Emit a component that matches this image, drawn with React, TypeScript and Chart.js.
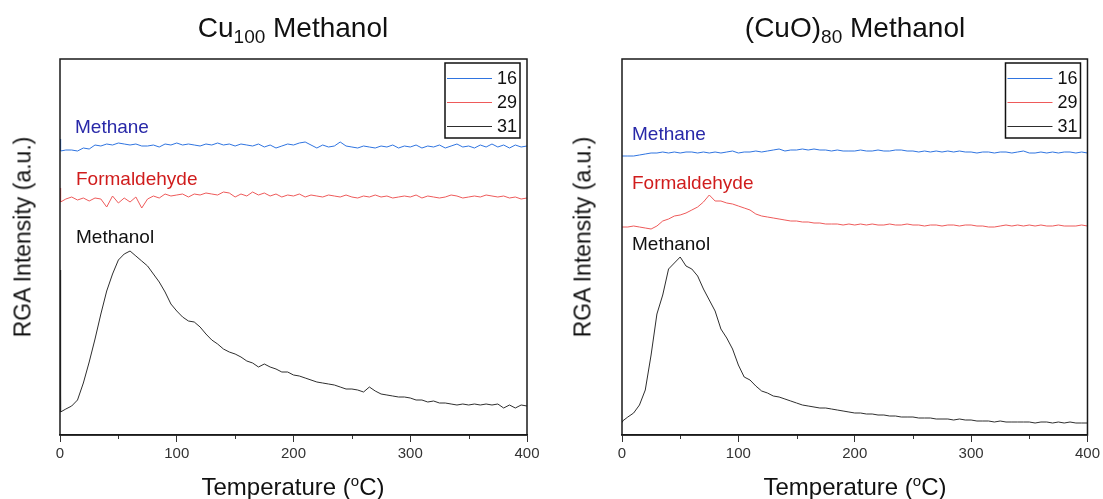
import React, { useEffect, useRef } from "react";
import { Chart, registerables } from "chart.js";

Chart.register(...registerables);

const FONT = '"Liberation Sans", Arial, Helvetica, sans-serif';

// Temperature (°C) sample points
const temps = [
  0, 0.5,
  5, 10, 15, 20, 25, 30, 35, 40, 45, 50,
  55, 60, 65, 70, 75, 80, 85, 90, 95, 100,
  105, 110, 115, 120, 125, 130, 135, 140, 145, 150,
  155, 160, 165, 170, 175, 180, 185, 190, 195, 200,
  205, 210, 215, 220, 225, 230, 235, 240, 245, 250,
  255, 260, 265, 270, 275, 280, 285, 290, 295, 300,
  305, 310, 315, 320, 325, 330, 335, 340, 345, 350,
  355, 360, 365, 370, 375, 380, 385, 390, 395, 400,
];

const xTickLabels = ["0", "100", "200", "300", "400"];
const minorTicks = [50, 150, 250, 350];
const seriesLabels = ["16", "29", "31"];
const seriesColors = ["#2f74e0", "#ee5a5a", "#2e2e2e"];

// Cu100 panel (a.u.)
const cu16 = [
  296, 284,
  285, 285, 284, 287, 286, 290, 289, 291, 290, 292,
  291, 290, 291, 289, 289, 290, 288, 291, 290, 292,
  290, 291, 290, 289, 291, 290, 292, 290, 291, 289,
  291, 290, 289, 291, 288, 290, 287, 289, 291, 290,
  292, 293, 290, 287, 290, 288, 289, 293, 289, 288,
  287, 289, 288, 287, 289, 288, 290, 287, 289, 288,
  290, 287, 289, 288, 290, 287, 289, 291, 288, 289,
  287, 290, 288, 291, 288, 290, 287, 290, 288, 289,
];
const cu29 = [
  247, 233,
  236, 238, 235, 237, 234, 237, 236, 228, 239, 232,
  237, 233, 238, 227, 236, 239, 237, 241, 239, 240,
  241, 238, 241, 240, 242, 241, 240, 243, 242, 238,
  241, 239, 243, 240, 242, 239, 241, 238, 240, 239,
  241, 238, 240, 239, 238, 240, 239, 238, 240, 238,
  237, 239, 238, 240, 238, 239, 237, 238, 239, 238,
  240, 237, 239, 238, 237, 238, 240, 239, 237, 238,
  239, 238, 240, 239, 238, 239, 237, 238, 236, 237,
];
const cu31 = [
  165, 23,
  26, 29, 35, 52, 73, 96, 121, 144, 161, 175,
  181, 184, 179, 174, 169, 161, 153, 143, 131, 124,
  118, 114, 113, 108, 101, 95, 91, 86, 83, 81,
  78, 74, 72, 68, 71, 68, 66, 63, 63, 60,
  59, 57, 55, 53, 52, 51, 50, 48, 46, 46,
  45, 43, 48, 44, 41, 40, 39, 38, 38, 37,
  35, 35, 33, 34, 32, 32, 31, 30, 31, 30,
  31, 30, 31, 30, 31, 27, 30, 27, 30, 29,
];

// (CuO)80 panel (a.u.)
const cuo16 = [
  279, 279,
  279, 279, 280, 281, 282, 282, 283, 282, 283, 282,
  283, 283, 282, 283, 282, 283, 282, 283, 284, 282,
  283, 283, 284, 283, 284, 285, 286, 284, 285, 285,
  286, 285, 286, 285, 285, 284, 285, 284, 284, 284,
  285, 284, 284, 285, 284, 284, 285, 285, 284, 284,
  283, 284, 283, 284, 283, 284, 283, 284, 283, 283,
  282, 283, 283, 282, 283, 283, 282, 283, 284, 282,
  282, 283, 282, 283, 282, 283, 283, 282, 283, 282,
];
const cuo29 = [
  208, 208,
  208, 209, 208, 207, 206, 209, 214, 216, 219, 220,
  222, 225, 228, 233, 240, 234, 234, 232, 231, 229,
  227, 225, 221, 219, 218, 217, 216, 215, 214, 214,
  213, 213, 212, 212, 211, 211, 211, 210, 211, 210,
  211, 210, 211, 210, 210, 211, 210, 210, 211, 210,
  210, 209, 210, 210, 209, 210, 210, 209, 210, 210,
  209, 209, 208, 208, 209, 210, 209, 210, 209, 210,
  209, 210, 209, 209, 210, 209, 209, 209, 210, 209,
];
const cuo31 = [
  13, 14,
  18, 22, 30, 45, 80, 121, 140, 166, 172, 178,
  169, 166, 159, 146, 135, 124, 106, 97, 86, 70,
  58, 55, 49, 44, 42, 39, 38, 36, 34, 32,
  30, 29, 28, 27, 27, 26, 25, 24, 23, 22,
  22, 21, 21, 20, 20, 19, 19, 18, 18, 18,
  17, 17, 17, 16, 16, 16, 15, 16, 15, 15,
  14, 14, 14, 13, 14, 13, 13, 13, 13, 13,
  12, 13, 13, 12, 13, 12, 13, 12, 12, 12,
];

const Y_MAX = 376;

const framePlugin = {
  id: "frameLegend",
  afterDraw(chart: any) {
    const { ctx, chartArea: a, scales } = chart;
    const xs = scales.x;
    ctx.save();
    // minor ticks
    ctx.strokeStyle = "#333";
    ctx.lineWidth = 1;
    minorTicks.forEach((t) => {
      const px = Math.round(xs.getPixelForValue(t)) + 0.5;
      ctx.beginPath();
      ctx.moveTo(px, a.bottom);
      ctx.lineTo(px, a.bottom + 4);
      ctx.stroke();
    });
    // frame
    ctx.lineWidth = 1.5;
    ctx.strokeStyle = "#1a1a1a";
    ctx.strokeRect(a.left, a.top, a.right - a.left, a.bottom - a.top);
    // legend
    const bw = 75;
    const bh = 75;
    const bx = a.right - 7 - bw;
    const by = a.top + 4;
    ctx.fillStyle = "#fff";
    ctx.fillRect(bx, by, bw, bh);
    ctx.lineWidth = 1.5;
    ctx.strokeStyle = "#111";
    ctx.strokeRect(bx, by, bw, bh);
    ctx.font = `18px ${FONT}`;
    ctx.textAlign = "right";
    ctx.textBaseline = "middle";
    chart.data.datasets.forEach((ds: any, i: number) => {
      const y = Math.round(by + 15 + i * 24) + 0.5;
      ctx.strokeStyle = ds.borderColor;
      ctx.lineWidth = 1.2;
      ctx.beginPath();
      ctx.moveTo(bx + 2, y);
      ctx.lineTo(bx + 47, y);
      ctx.stroke();
      ctx.fillStyle = "#111";
      ctx.fillText(ds.label, bx + bw - 3, y + 1);
    });
    ctx.restore();
  },
};

function Panel(props: {
  left: number;
  width: number;
  padLeft: number;
  padRight: number;
  series: number[][];
}) {
  const ref = useRef<HTMLCanvasElement>(null);
  useEffect(() => {
    const datasets = props.series.map((s, i) => ({
      label: seriesLabels[i],
      data: temps.map((t, j) => ({ x: t, y: s[j] })),
      borderColor: seriesColors[i],
      backgroundColor: seriesColors[i],
      borderWidth: 1,
      pointRadius: 0,
      tension: 0,
      fill: false,
    }));
    const chart = new Chart(ref.current as HTMLCanvasElement, {
      type: "line",
      data: { datasets },
      options: {
        animation: false,
        responsive: false,
        maintainAspectRatio: false,
        devicePixelRatio: 1,
        layout: {
          padding: { left: props.padLeft, right: props.padRight, top: 59, bottom: 24 },
        },
        plugins: { legend: { display: false }, tooltip: { enabled: false }, title: { display: false } },
        scales: {
          x: {
            type: "linear",
            min: 0,
            max: 400,
            afterFit: (s: any) => {
              s.height = 40;
            },
            ticks: {
              stepSize: 100,
              color: "#333",
              padding: 3,
              maxRotation: 0,
              font: { size: 15, family: FONT },
              callback: (v: any) => {
                const idx = [0, 100, 200, 300, 400].indexOf(Number(v));
                return idx >= 0 ? xTickLabels[idx] : "";
              },
            },
            grid: {
              display: true,
              drawOnChartArea: false,
              drawTicks: true,
              tickLength: 7,
              color: "#333",
              lineWidth: 1,
            },
            border: { display: true, color: "#1a1a1a", width: 1.5 },
          },
          y: { display: false, min: 0, max: Y_MAX },
        },
      } as any,
      plugins: [framePlugin],
    });
    return () => chart.destroy();
  }, []);
  return (
    <canvas
      ref={ref}
      width={props.width}
      height={499}
      style={{ position: "absolute", left: props.left, top: 0, width: props.width, height: 499, display: "block" }}
    />
  );
}

const txt = (extra: React.CSSProperties): React.CSSProperties => ({
  position: "absolute",
  fontFamily: FONT,
  whiteSpace: "nowrap",
  color: "#111",
  ...extra,
});

export default function App() {
  return (
    <div style={{ position: "absolute", left: 0, top: 0, width: 1103, height: 499, background: "#fff", overflow: "hidden" }}>
      <Panel left={0} width={560} padLeft={60} padRight={33} series={[cu16, cu29, cu31]} />
      <Panel left={560} width={543} padLeft={62} padRight={15} series={[cuo16, cuo29, cuo31]} />

      {/* titles */}
      <div style={txt({ left: 293, top: 14, fontSize: 28, lineHeight: "28px", transform: "translateX(-50%)" })}>
        Cu<span style={{ fontSize: 19, position: "relative", top: 6 }}>100</span> Methanol
      </div>
      <div style={txt({ left: 855, top: 14, fontSize: 28, lineHeight: "28px", transform: "translateX(-50%)" })}>
        (CuO)<span style={{ fontSize: 19, position: "relative", top: 6 }}>80</span> Methanol
      </div>

      {/* x titles */}
      <div style={txt({ left: 293, top: 475, fontSize: 24, lineHeight: "24px", transform: "translateX(-50%)" })}>
        Temperature (<span style={{ fontSize: 15, position: "relative", top: -9 }}>o</span>C)
      </div>
      <div style={txt({ left: 855, top: 475, fontSize: 24, lineHeight: "24px", transform: "translateX(-50%)" })}>
        Temperature (<span style={{ fontSize: 15, position: "relative", top: -9 }}>o</span>C)
      </div>

      {/* y titles */}
      <div style={txt({ left: 23, top: 237, fontSize: 23, lineHeight: "23px", transform: "translate(-50%, -50%) rotate(-90deg)" })}>
        RGA Intensity (a.u.)
      </div>
      <div style={txt({ left: 583, top: 237, fontSize: 23, lineHeight: "23px", transform: "translate(-50%, -50%) rotate(-90deg)" })}>
        RGA Intensity (a.u.)
      </div>

      {/* annotations left */}
      <div style={txt({ left: 75, top: 117, fontSize: 19, lineHeight: "19px", color: "#2828a8" })}>Methane</div>
      <div style={txt({ left: 76, top: 169, fontSize: 19, lineHeight: "19px", color: "#d01c1c" })}>Formaldehyde</div>
      <div style={txt({ left: 76, top: 227, fontSize: 19, lineHeight: "19px", color: "#111" })}>Methanol</div>

      {/* annotations right */}
      <div style={txt({ left: 632, top: 124, fontSize: 19, lineHeight: "19px", color: "#2828a8" })}>Methane</div>
      <div style={txt({ left: 632, top: 173, fontSize: 19, lineHeight: "19px", color: "#d01c1c" })}>Formaldehyde</div>
      <div style={txt({ left: 632, top: 234, fontSize: 19, lineHeight: "19px", color: "#111" })}>Methanol</div>
    </div>
  );
}
